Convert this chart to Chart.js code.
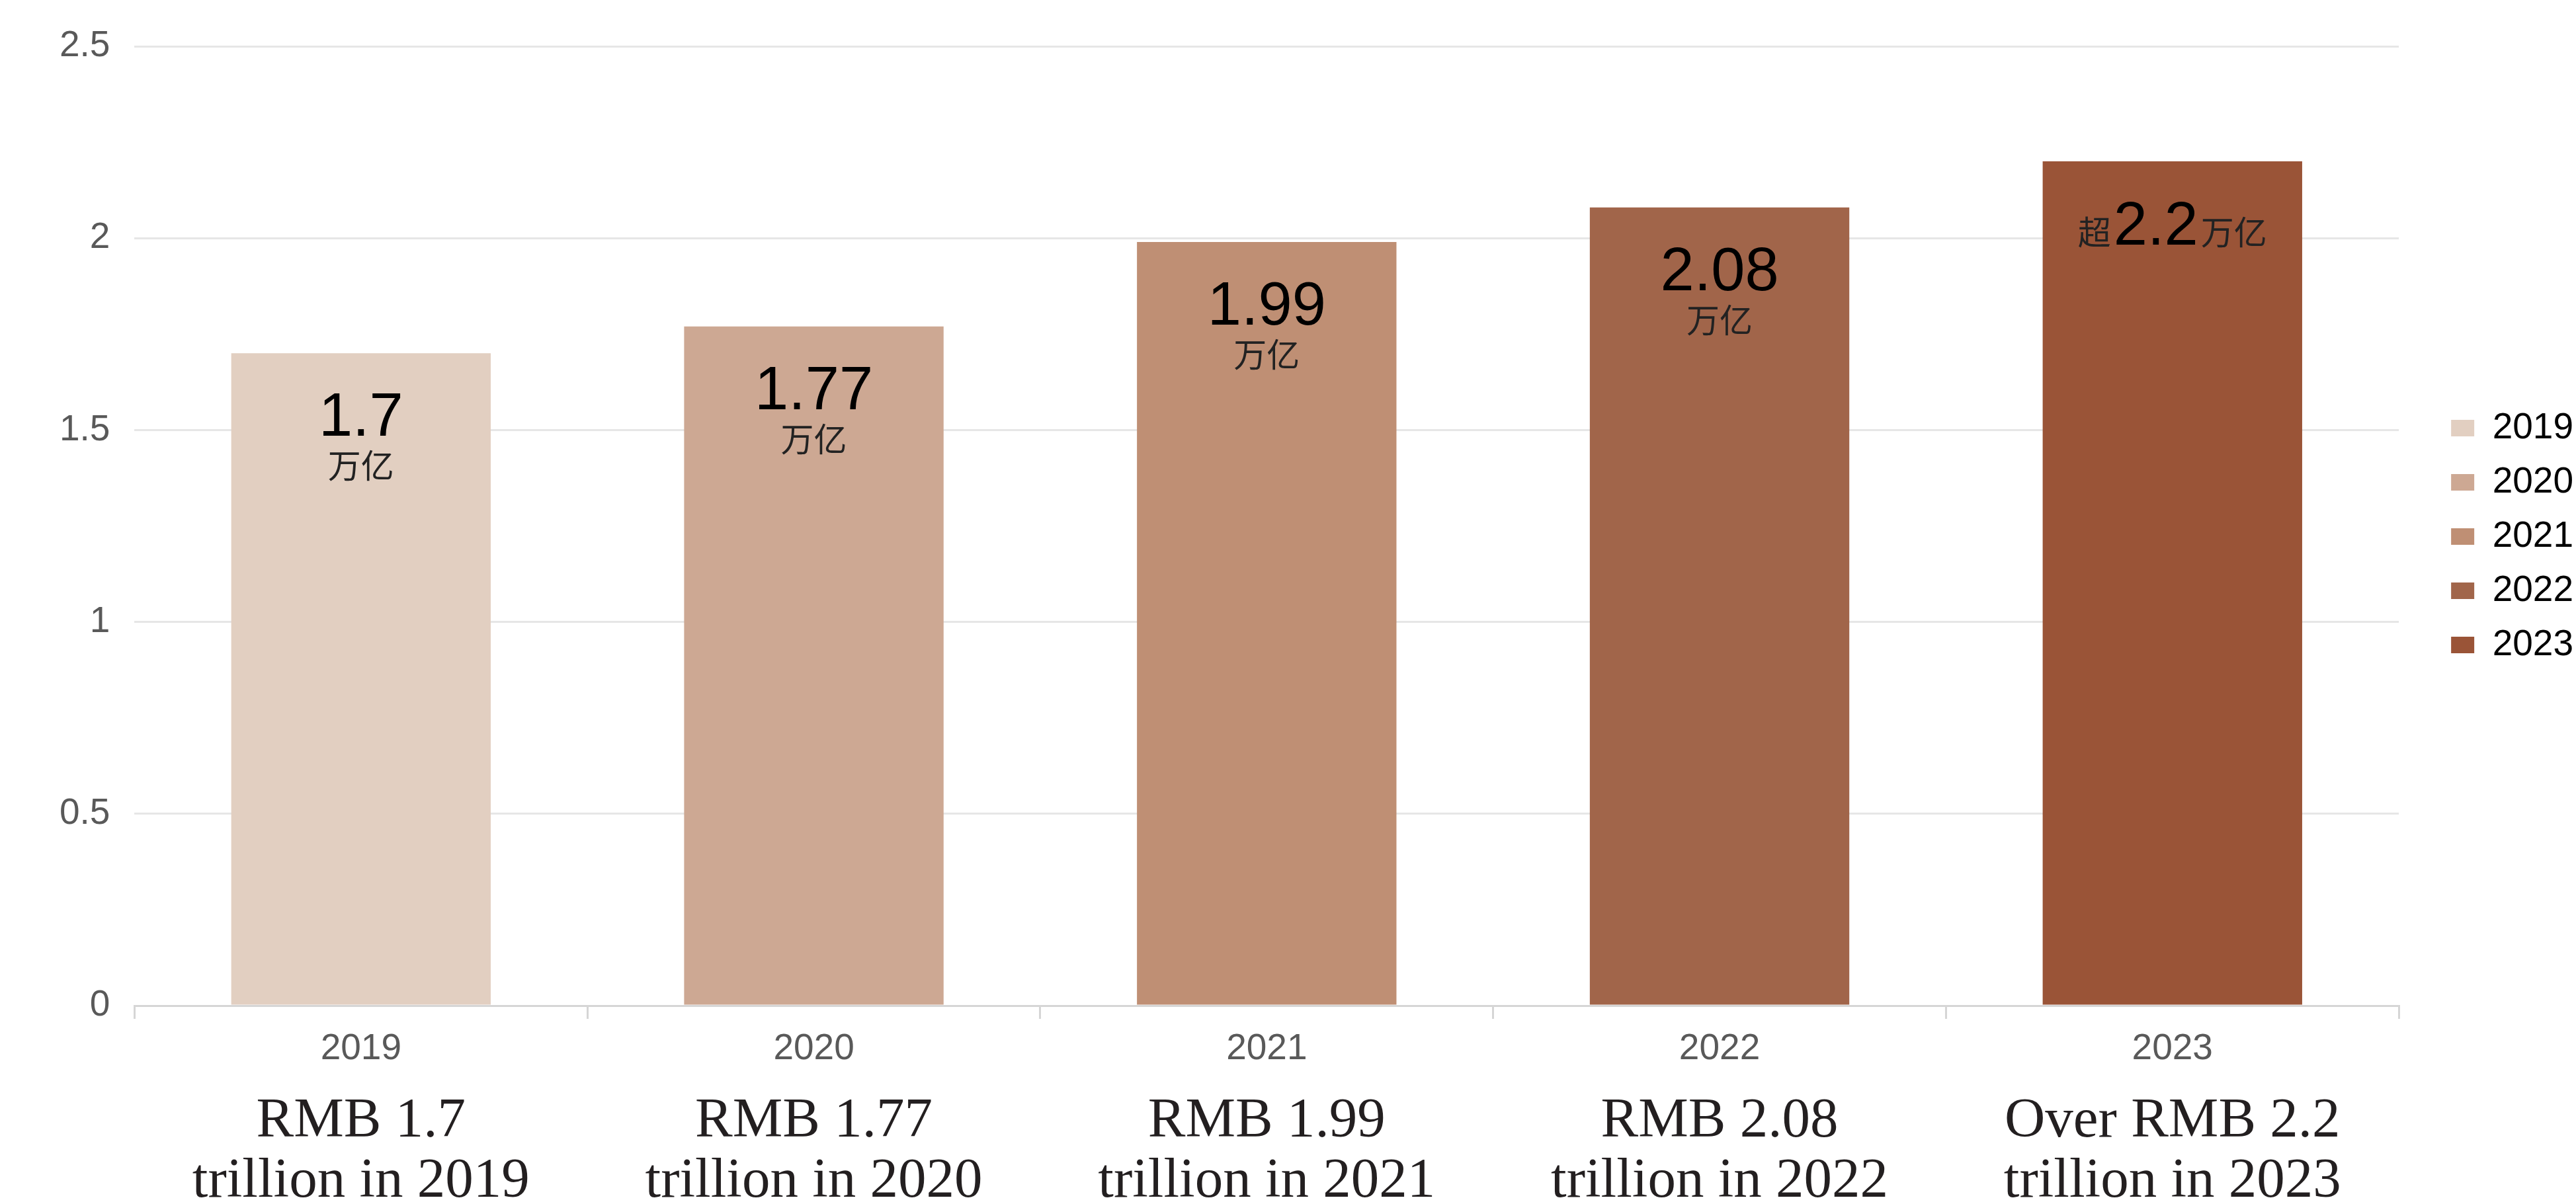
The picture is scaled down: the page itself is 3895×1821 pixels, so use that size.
<!DOCTYPE html>
<html>
<head>
<meta charset="utf-8">
<script src="https://cdn.jsdelivr.net/npm/chart.js@4.4.1/dist/chart.umd.min.js"></script>
<style>
  html, body { margin: 0; padding: 0; background: #ffffff; }
  #wrap { width: 3895px; height: 1821px; }
</style>
</head>
<body>
<div id="wrap"><canvas id="chart" width="3895" height="1821"></canvas></div>
<script>
// Annual totals, trillion yuan
const years = ['2019', '2020', '2021', '2022', '2023'];
const values = [1.7, 1.77, 1.99, 2.08, 2.2];
const valueTexts = ['1.7', '1.77', '1.99', '2.08', '2.2'];
const valuePrefixes = ['', '', '', '', '超'];
const unitText = '万亿';
const englishLabels = [
  ['RMB 1.7', 'trillion in 2019'],
  ['RMB 1.77', 'trillion in 2020'],
  ['RMB 1.99', 'trillion in 2021'],
  ['RMB 2.08', 'trillion in 2022'],
  ['Over RMB 2.2', 'trillion in 2023']
];
const barColors = ['#e2cfc1', '#cda893', '#bf8f74', '#a1654a', '#9a5437'];

const SANS = '"Liberation Sans", Arial, sans-serif';
const SERIF = '"Liberation Serif", "Times New Roman", serif';
const CJK = '"Noto Sans CJK SC", sans-serif';

// Value labels inside the top of each bar
const barLabels = {
  id: 'barLabels',
  afterDatasetsDraw(chart) {
    const ctx = chart.ctx;
    const meta = chart.getDatasetMeta(0);
    ctx.save();
    meta.data.forEach((bar, i) => {
      const x = bar.x;
      const top = bar.y;
      const numFont = '92px ' + SANS;
      const cjkFont = '50px ' + CJK;
      ctx.textBaseline = 'alphabetic';
      if (valuePrefixes[i]) {
        // single line: prefix + number + unit
        ctx.font = cjkFont;
        const wPre = ctx.measureText(valuePrefixes[i]).width;
        const wUnit = ctx.measureText(unitText).width;
        ctx.font = numFont;
        const wNum = ctx.measureText(valueTexts[i]).width;
        const gap = 4;
        let cx = x - (wPre + wNum + wUnit + 2 * gap) / 2;
        const base = top + 126;
        ctx.textAlign = 'left';
        ctx.fillStyle = '#222222';
        ctx.font = cjkFont;
        ctx.fillText(valuePrefixes[i], cx, base);
        cx += wPre + gap;
        ctx.fillStyle = '#000000';
        ctx.font = numFont;
        ctx.fillText(valueTexts[i], cx, base);
        cx += wNum + gap;
        ctx.fillStyle = '#222222';
        ctx.font = cjkFont;
        ctx.fillText(unitText, cx, base);
      } else {
        ctx.textAlign = 'center';
        ctx.fillStyle = '#000000';
        ctx.font = numFont;
        ctx.fillText(valueTexts[i], x, top + 125);
        ctx.fillStyle = '#222222';
        ctx.font = cjkFont;
        ctx.fillText(unitText, x, top + 189);
      }
    });
    ctx.restore();
  }
};

// Move the legend block next to the plot, slightly lower than centred
const legendPlacement = {
  id: 'legendPlacement',
  afterLayout(chart) {
    const lg = chart.legend;
    if (!lg) return;
    lg.left += 52; lg.right += 52;
    lg.top += 16; lg.bottom += 16;
  }
};

new Chart(document.getElementById('chart'), {
  type: 'bar',
  data: {
    labels: years,
    datasets: [{
      data: values,
      backgroundColor: barColors,
      borderWidth: 0,
      categoryPercentage: 1,
      barPercentage: 0.573
    }]
  },
  options: {
    responsive: false,
    animation: false,
    events: [],
    layout: { padding: { top: 62, left: 53, right: 46, bottom: 0 } },
    scales: {
      x: {
        type: 'category',
        position: 'bottom',
        weight: 0,
        offset: true,
        grid: {
          display: true,
          offset: true,
          drawOnChartArea: false,
          drawTicks: true,
          tickLength: 20,
          color: '#d6d6d6',
          lineWidth: 3
        },
        border: { display: true, color: '#d6d6d6', width: 3 },
        ticks: {
          color: '#595959',
          font: { family: SANS, size: 55 },
          padding: 13,
          autoSkip: false,
          maxRotation: 0,
          minRotation: 0
        }
      },
      x2: {
        type: 'category',
        position: 'bottom',
        weight: 1,
        labels: englishLabels,
        offset: true,
        grid: { display: false, drawTicks: false },
        border: { display: false },
        ticks: {
          color: '#231f20',
          font: { family: SERIF, size: 85, lineHeight: 1.07 },
          padding: 18,
          autoSkip: false,
          maxRotation: 0,
          minRotation: 0
        },
        afterFit(scale) { scale.height = 188; }
      },
      y: {
        min: 0,
        max: 2.5,
        ticks: {
          stepSize: 0.5,
          color: '#595959',
          font: { family: SANS, size: 55 },
          padding: 37,
          callback: (v) => String(v)
        },
        grid: { color: '#e6e6e6', lineWidth: 3, drawTicks: false },
        border: { display: false }
      }
    },
    plugins: {
      tooltip: { enabled: false },
      title: { display: false },
      legend: {
        display: true,
        position: 'right',
        fullSize: false,
        align: 'center',
        labels: {
          boxWidth: 35,
          boxHeight: 25,
          padding: 27,
          color: '#595959',
          font: { family: SANS, size: 55 },
          generateLabels: () => years.map((y, i) => ({
            text: y,
            fillStyle: barColors[i],
            strokeStyle: barColors[i],
            lineWidth: 0,
            hidden: false,
            index: i,
            datasetIndex: 0
          }))
        }
      }
    }
  },
  plugins: [barLabels, legendPlacement]
});
</script>
</body>
</html>
